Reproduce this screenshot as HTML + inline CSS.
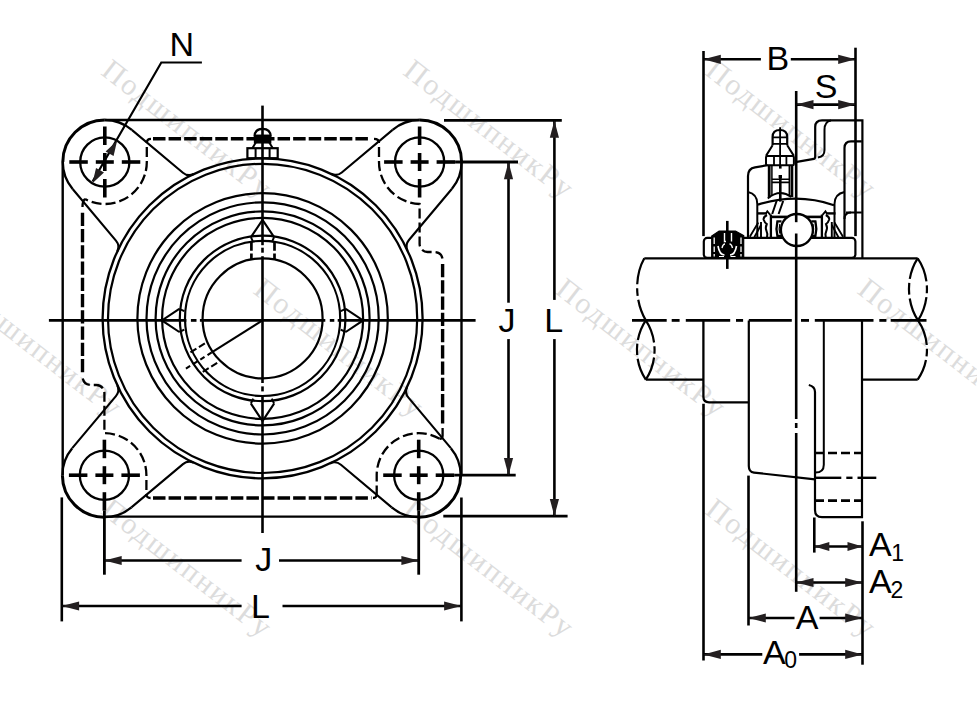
<!DOCTYPE html>
<html><head><meta charset="utf-8"><style>
html,body{margin:0;padding:0;background:#fff;width:977px;height:704px;overflow:hidden;}
svg{display:block;}

</style></head><body>
<svg width="977" height="704" viewBox="0 0 977 704">
<g font-family="Liberation Serif, serif" font-size="30" letter-spacing="2" fill="#dcdcdc" stroke="none">
<text transform="translate(99.78,73.79) rotate(37.8)">ПодшипникРу</text>
<text transform="translate(401.78,73.79) rotate(37.8)">ПодшипникРу</text>
<text transform="translate(703.78,73.79) rotate(37.8)">ПодшипникРу</text>
<text transform="translate(-50.12,292.59) rotate(37.8)">ПодшипникРу</text>
<text transform="translate(251.88,292.59) rotate(37.8)">ПодшипникРу</text>
<text transform="translate(553.88,292.59) rotate(37.8)">ПодшипникРу</text>
<text transform="translate(855.88,292.59) rotate(37.8)">ПодшипникРу</text>
<text transform="translate(99.78,512.69) rotate(37.8)">ПодшипникРу</text>
<text transform="translate(401.78,512.69) rotate(37.8)">ПодшипникРу</text>
<text transform="translate(703.78,512.69) rotate(37.8)">ПодшипникРу</text>
</g>
<g stroke="#000" fill="none" stroke-linecap="butt">
<line x1="104.8" y1="120" x2="419.6" y2="120" stroke-width="2.4" />
<line x1="104.4" y1="516.6" x2="418.7" y2="516.6" stroke-width="2.4" />
<line x1="62.7" y1="162" x2="62.7" y2="475.2" stroke-width="2.4" />
<line x1="461.5" y1="162" x2="461.5" y2="475.2" stroke-width="2.4" />
<path d="M131.8,129.83 A42,42 0 0 0 104.8,120" stroke-width="2.3" />
<path d="M104.8,120 A42,42 0 0 0 62.8,162" stroke-width="3.0" />
<path d="M62.8,162 A42,42 0 0 0 72.63,189" stroke-width="2.3" />
<path d="M131.8,129.83 L182.93,172.73 Q187.9,176.91 193.71,173.99" stroke-width="2.1" />
<path d="M72.63,189 L115.94,240.62 Q120.12,245.6 117.28,251.45" stroke-width="2.1" />
<path d="M451.77,189 A42,42 0 0 0 461.6,162" stroke-width="2.3" />
<path d="M461.6,162 A42,42 0 0 0 419.6,120" stroke-width="3.0" />
<path d="M419.6,120 A42,42 0 0 0 392.6,129.83" stroke-width="2.3" />
<path d="M451.77,189 L408.95,240.03 Q404.77,245.01 407.64,250.84" stroke-width="2.1" />
<path d="M392.6,129.83 L341.78,172.47 Q336.8,176.65 330.99,173.75" stroke-width="2.1" />
<path d="M72.23,448.2 A42,42 0 0 0 62.4,475.2" stroke-width="2.3" />
<path d="M62.4,475.2 A42,42 0 0 0 104.4,517.2" stroke-width="3.0" />
<path d="M104.4,517.2 A42,42 0 0 0 131.4,507.37" stroke-width="2.3" />
<path d="M72.23,448.2 L115.92,396.13 Q120.1,391.15 117.26,385.3" stroke-width="2.1" />
<path d="M131.4,507.37 L182.97,464.1 Q187.95,459.92 193.76,462.83" stroke-width="2.1" />
<path d="M391.7,507.37 A42,42 0 0 0 418.7,517.2" stroke-width="2.3" />
<path d="M418.7,517.2 A42,42 0 0 0 460.7,475.2" stroke-width="3.0" />
<path d="M460.7,475.2 A42,42 0 0 0 450.87,448.2" stroke-width="2.3" />
<path d="M391.7,507.37 L340.93,464.77 Q335.95,460.59 330.12,463.46" stroke-width="2.1" />
<path d="M450.87,448.2 L408.48,397.68 Q404.3,392.7 407.2,386.88" stroke-width="2.1" />
<circle cx="262.6" cy="318.4" r="160" stroke-width="2.3" />
<circle cx="262.6" cy="318.4" r="154.6" stroke-width="2.2" />
<circle cx="262.6" cy="318.4" r="125.2" stroke-width="2.2" />
<circle cx="262.6" cy="318.4" r="116.1" stroke-width="2.2" />
<circle cx="262.6" cy="318.4" r="107" stroke-width="2.2" />
<circle cx="262.6" cy="318.4" r="100.5" stroke-width="2.2" />
<circle cx="262.6" cy="318.4" r="82.8" stroke-width="2.2" />
<circle cx="262.6" cy="318.4" r="77.6" stroke-width="2.2" />
<circle cx="262.6" cy="318.4" r="60" stroke-width="2.2" />
<circle cx="104.8" cy="162" r="24.6" stroke-width="2.3" />
<line x1="69.3" y1="162" x2="87.8" y2="162" stroke-width="3.6" />
<line x1="104.8" y1="126.5" x2="104.8" y2="145" stroke-width="3.6" />
<line x1="95.8" y1="162" x2="113.8" y2="162" stroke-width="3.6" />
<line x1="104.8" y1="153" x2="104.8" y2="171" stroke-width="3.6" />
<line x1="121.8" y1="162" x2="140.3" y2="162" stroke-width="3.6" />
<line x1="104.8" y1="179" x2="104.8" y2="197.5" stroke-width="3.6" />
<circle cx="419.6" cy="162" r="24.6" stroke-width="2.3" />
<line x1="384.1" y1="162" x2="402.6" y2="162" stroke-width="3.6" />
<line x1="419.6" y1="126.5" x2="419.6" y2="145" stroke-width="3.6" />
<line x1="410.6" y1="162" x2="428.6" y2="162" stroke-width="3.6" />
<line x1="419.6" y1="153" x2="419.6" y2="171" stroke-width="3.6" />
<line x1="436.6" y1="162" x2="455.1" y2="162" stroke-width="3.6" />
<line x1="419.6" y1="179" x2="419.6" y2="197.5" stroke-width="3.6" />
<circle cx="104.4" cy="475.2" r="24.6" stroke-width="2.3" />
<line x1="68.9" y1="475.2" x2="87.4" y2="475.2" stroke-width="3.6" />
<line x1="104.4" y1="439.7" x2="104.4" y2="458.2" stroke-width="3.6" />
<line x1="95.4" y1="475.2" x2="113.4" y2="475.2" stroke-width="3.6" />
<line x1="104.4" y1="466.2" x2="104.4" y2="484.2" stroke-width="3.6" />
<line x1="121.4" y1="475.2" x2="139.9" y2="475.2" stroke-width="3.6" />
<line x1="104.4" y1="492.2" x2="104.4" y2="510.7" stroke-width="3.6" />
<circle cx="418.7" cy="475.2" r="24.6" stroke-width="2.3" />
<line x1="383.2" y1="475.2" x2="401.7" y2="475.2" stroke-width="3.6" />
<line x1="418.7" y1="439.7" x2="418.7" y2="458.2" stroke-width="3.6" />
<line x1="409.7" y1="475.2" x2="427.7" y2="475.2" stroke-width="3.6" />
<line x1="418.7" y1="466.2" x2="418.7" y2="484.2" stroke-width="3.6" />
<line x1="435.7" y1="475.2" x2="454.2" y2="475.2" stroke-width="3.6" />
<line x1="418.7" y1="492.2" x2="418.7" y2="510.7" stroke-width="3.6" />
<line x1="455.1" y1="162" x2="518" y2="162" stroke-width="2.8" />
<line x1="454.2" y1="475.2" x2="515.7" y2="475.2" stroke-width="2.8" />
<line x1="104.4" y1="510.7" x2="104.4" y2="574.7" stroke-width="2.8" />
<line x1="418.7" y1="510.7" x2="418.7" y2="574.7" stroke-width="2.8" />
<line x1="153" y1="138.8" x2="368.9" y2="138.8" stroke-width="3.4" stroke-dasharray="12.5 3.07"/>
<line x1="153" y1="498" x2="371.5" y2="498" stroke-width="3.4" stroke-dasharray="12.5 3.07"/>
<line x1="82.5" y1="212.7" x2="82.5" y2="373" stroke-width="3.4" stroke-dasharray="13.3 2.95"/>
<line x1="442.6" y1="264" x2="442.6" y2="426" stroke-width="3.4" stroke-dasharray="13.3 2.95"/>
<path d="M151,138.8 Q146.8,138.8 146.8,143" stroke-width="2.3" />
<path d="M146.8,143 V162 A42,42 0 0 1 85.08,199.08" stroke-width="2.3" stroke-dasharray="10 4" stroke-dashoffset="10"/>
<path d="M85.08,199.08 Q82.5,200.58 82.5,207.08" stroke-width="2.3" />
<path d="M374,138.8 Q379,138.8 379,143" stroke-width="2.3" />
<path d="M379,143 V162 A42,42 0 0 0 419.6,204 V244 A8,8 0 0 0 427.9,252 H434.6 A8,8 0 0 1 442.6,260" stroke-width="2.3" stroke-dasharray="10 4" stroke-dashoffset="10"/>
<path d="M442.6,428 V435.83 Q442.6,438.83 439.7,438.83" stroke-width="2.3" />
<path d="M439.7,438.83 A42,42 0 0 0 376.7,475.2 V494" stroke-width="2.3" stroke-dasharray="10 4"/>
<path d="M376.7,494 Q376.7,498 373,498" stroke-width="2.3" />
<path d="M146.4,494 Q146.4,498 150.6,498" stroke-width="2.3" />
<path d="M146.4,494 V475.2 A42,42 0 0 0 104.4,433.2 V393 A8,8 0 0 0 96.4,385 H90.6 A8,8 0 0 1 82.6,377" stroke-width="2.3" stroke-dasharray="10 4" stroke-dashoffset="10"/>
<line x1="48.9" y1="320.4" x2="186.4" y2="320.4" stroke-width="2.8" />
<line x1="190.9" y1="320.4" x2="196.5" y2="320.4" stroke-width="2.8" />
<line x1="199.9" y1="320.4" x2="325.3" y2="320.4" stroke-width="2.8" />
<line x1="329.8" y1="320.4" x2="334.3" y2="320.4" stroke-width="2.8" />
<line x1="337.7" y1="320.4" x2="475.6" y2="320.4" stroke-width="2.8" />
<line x1="262.5" y1="105.6" x2="262.5" y2="245.2" stroke-width="2.6" />
<line x1="262.5" y1="247.7" x2="262.5" y2="252.7" stroke-width="2.6" />
<line x1="262.5" y1="256.2" x2="262.5" y2="383" stroke-width="2.6" />
<line x1="262.5" y1="386.4" x2="262.5" y2="391.4" stroke-width="2.6" />
<line x1="262.5" y1="395" x2="262.5" y2="533" stroke-width="2.6" />
<path d="M250.9,237.2 L262.5,219.8 L274.1,237.2" stroke-width="2.1" />
<path d="M250.9,237.2 L253.2,242.2 M274.1,237.2 L271.8,242.2" stroke-width="2.0" />
<line x1="251.4" y1="242.1" x2="251.4" y2="260.1" stroke-width="2.7" stroke-dasharray="8.6 2.7"/>
<line x1="274.5" y1="242.1" x2="274.5" y2="260.1" stroke-width="2.7" stroke-dasharray="8.6 2.7"/>
<path d="M274.1,403.6 L262.5,421 L250.9,403.6" stroke-width="2.1" />
<path d="M274.1,403.6 L271.8,398.6 M250.9,403.6 L253.2,398.6" stroke-width="2.0" />
<path d="M179.3,332 L161.9,320.4 L179.3,308.8" stroke-width="2.1" />
<path d="M179.3,332 L184.3,329.7 M179.3,308.8 L184.3,311.1" stroke-width="2.0" />
<path d="M345.7,308.8 L363.1,320.4 L345.7,332" stroke-width="2.1" />
<path d="M345.7,308.8 L340.7,311.1 M345.7,332 L340.7,329.7" stroke-width="2.0" />
<line x1="262.5" y1="320.4" x2="211.73" y2="352.37" stroke-width="2.1" />
<line x1="211.73" y1="352.37" x2="183.8" y2="369.96" stroke-width="2.1" stroke-dasharray="5 3.5"/>
<line x1="217.17" y1="362.89" x2="201.94" y2="372.48" stroke-width="2.1" stroke-dasharray="7 3"/>
<line x1="204.86" y1="343.34" x2="189.63" y2="352.94" stroke-width="2.1" stroke-dasharray="7 3"/>
<rect x="247.4" y="148.2" width="30.3" height="10" stroke-width="2.2"/>
<line x1="255.6" y1="149" x2="255.6" y2="158" stroke-width="2.0" />
<line x1="269.6" y1="149" x2="269.6" y2="158" stroke-width="2.0" />
<path d="M252.3,148.2 L256.3,141.8 M272.8,148.2 L268.8,141.8" stroke-width="2.0" />
<rect x="254.6" y="135.3" width="16" height="7.5" fill="#000" stroke="#000" stroke-width="1.5"/>
<path d="M254.6,136.5 Q254.6,128.8 262.6,128.8 Q270.6,128.8 270.6,136.5" stroke-width="2.2" />
<path d="M201.9,62.5 H161.3 L92.6,181.5" stroke-width="2.2" />
<path d="M117.1,140.7 L113.58,155.99 L105.62,151.39Z" fill="#231f20" stroke="none"/>
<path d="M92.5,183.3 L96.02,168.01 L103.98,172.61Z" fill="#231f20" stroke="none"/>
<line x1="444" y1="120.4" x2="561.8" y2="120.4" stroke-width="2.8" />
<line x1="443.3" y1="516.2" x2="567.6" y2="516.2" stroke-width="2.8" />
<line x1="508.5" y1="162" x2="508.5" y2="302.7" stroke-width="2.6" />
<line x1="508.5" y1="339.1" x2="508.5" y2="475.2" stroke-width="2.6" />
<path d="M508.5,162 L513.1,179.3 L503.9,179.3Z" fill="#231f20" stroke="none"/>
<path d="M508.5,475.2 L503.9,457.9 L513.1,457.9Z" fill="#231f20" stroke="none"/>
<line x1="554.4" y1="120.4" x2="554.4" y2="299.9" stroke-width="2.6" />
<line x1="554.4" y1="339.1" x2="554.4" y2="516.2" stroke-width="2.6" />
<path d="M554.4,120.4 L559,137.7 L549.8,137.7Z" fill="#231f20" stroke="none"/>
<path d="M554.4,516.2 L549.8,498.9 L559,498.9Z" fill="#231f20" stroke="none"/>
<line x1="61.8" y1="497.4" x2="61.8" y2="621.4" stroke-width="2.6" />
<line x1="461.4" y1="497.5" x2="461.4" y2="621.4" stroke-width="2.6" />
<line x1="104.4" y1="560.5" x2="241.6" y2="560.5" stroke-width="2.6" />
<line x1="279" y1="560.5" x2="418.7" y2="560.5" stroke-width="2.6" />
<path d="M104.4,560.5 L121.7,555.9 L121.7,565.1Z" fill="#231f20" stroke="none"/>
<path d="M418.7,560.5 L401.4,565.1 L401.4,555.9Z" fill="#231f20" stroke="none"/>
<line x1="61.8" y1="606" x2="241.6" y2="606" stroke-width="2.6" />
<line x1="282.5" y1="606" x2="461.4" y2="606" stroke-width="2.6" />
<path d="M61.8,606 L79.1,601.4 L79.1,610.6Z" fill="#231f20" stroke="none"/>
<path d="M461.4,606 L444.1,610.6 L444.1,601.4Z" fill="#231f20" stroke="none"/>
<line x1="644.3" y1="258.3" x2="917.7" y2="258.3" stroke-width="2.3" />
<line x1="645.8" y1="379.6" x2="703.5" y2="379.6" stroke-width="2.2" />
<line x1="862" y1="379.6" x2="917.7" y2="379.6" stroke-width="2.2" />
<path d="M644.3,258.3 C635,275 634,300 645.8,320.4" stroke-width="2.2" pathLength="100" stroke-dasharray="42 6 12 6 100"/>
<path d="M645.8,320.4 C634,338 634,362 645.8,379.6" stroke-width="2.2" pathLength="100" stroke-dasharray="34 6 18 6 100"/>
<path d="M645.8,320.4 C657.5,338 657.5,362 645.8,379.6" stroke-width="2.2" pathLength="100" stroke-dasharray="38 6 12 6 100"/>
<path d="M917.7,258.3 C906,276 906,302 918,320.4" stroke-width="2.2" pathLength="100" stroke-dasharray="34 6 18 6 100"/>
<path d="M917.7,258.3 C930,276 930,302 918,320.4" stroke-width="2.2" pathLength="100" stroke-dasharray="38 6 12 6 100"/>
<path d="M918,320.4 C930,338 930,362 917.7,379.6" stroke-width="2.2" pathLength="100" stroke-dasharray="42 6 12 6 100"/>
<line x1="632" y1="320.4" x2="666.7" y2="320.4" stroke-width="2.8" />
<line x1="671.7" y1="320.4" x2="679.6" y2="320.4" stroke-width="2.8" />
<line x1="685.8" y1="320.4" x2="730.2" y2="320.4" stroke-width="2.8" />
<line x1="736" y1="320.4" x2="743.1" y2="320.4" stroke-width="2.8" />
<line x1="748.8" y1="320.4" x2="791.8" y2="320.4" stroke-width="2.8" />
<line x1="801" y1="320.4" x2="809" y2="320.4" stroke-width="2.8" />
<line x1="814.8" y1="320.4" x2="873.5" y2="320.4" stroke-width="2.8" />
<line x1="879.3" y1="320.4" x2="886.4" y2="320.4" stroke-width="2.8" />
<line x1="890.7" y1="320.4" x2="926.5" y2="320.4" stroke-width="2.8" />
<rect x="703.8" y="237.9" width="151.6" height="20" rx="3.5" stroke-width="2.2"/>
<path d="M711.7,257.5 V236.1 L719.1,231 H735.5 L743.7,235.7 V257.5 Z" stroke-width="1.2" fill="#000"/>
<line x1="714.2" y1="237.5" x2="714.2" y2="244" stroke-width="1.3" stroke="#fff"/>
<line x1="714.2" y1="246.5" x2="714.2" y2="252" stroke-width="1.3" stroke="#fff"/>
<line x1="714.2" y1="254" x2="714.2" y2="256.5" stroke-width="1.3" stroke="#fff"/>
<line x1="741" y1="237.5" x2="741" y2="244" stroke-width="1.3" stroke="#fff"/>
<line x1="741" y1="246.5" x2="741" y2="252" stroke-width="1.3" stroke="#fff"/>
<line x1="741" y1="254" x2="741" y2="256.5" stroke-width="1.3" stroke="#fff"/>
<path d="M724.5,233 V241.5 H726.5 M731.5,233 V241.5" stroke-width="1.4" stroke="#fff"/>
<path d="M718,246 Q719.5,255 724.5,255 M736.5,246 Q735,255 730,255" stroke-width="1.6" stroke="#fff"/>
<path d="M722,248 Q723,244 725,244 M732.5,248 Q731.5,244 729.5,244" stroke-width="1.4" stroke="#fff"/>
<path d="M719,256.5 H724 M730.5,256.5 H735.5" stroke-width="1.2" stroke="#fff"/>
<line x1="727.3" y1="220.9" x2="727.3" y2="268.9" stroke-width="2.6" />
<path d="M748,238 V176 Q748,168.6 755,167.4 L767.5,165.2" stroke-width="2.2" />
<path d="M796.9,161.8 L814,158.8 Q815.2,158.6 815.2,156 V127 Q815.2,120.4 822,120.4 H862.4 V258" stroke-width="2.2" />
<path d="M831,120.4 Q824.5,121 824.5,130 V150 Q824.5,156.5 818,157.6" stroke-width="2.0" />
<path d="M844.5,238 V148 Q844.5,141.3 851,141.3 H861.8" stroke-width="2.2" />
<line x1="846" y1="212.5" x2="861.8" y2="212.5" stroke-width="2.0" />
<path d="M844.5,219 Q844.5,212.5 851,212.5" stroke-width="2.0" />
<path d="M748,192 Q757.3,194 757.3,204 V238" stroke-width="2.0" />
<path d="M844.5,192 Q834.5,194 834.5,204 V238" stroke-width="2.0" />
<path d="M758,204.6 Q796.6,192.5 834,205.2" stroke-width="2.2" />
<path d="M772.2,214 L776.6,201 M778.6,214 L783.2,201" stroke-width="2.0" />
<line x1="757.3" y1="213.4" x2="767" y2="213.4" stroke-width="2.4" />
<path d="M766,213.4 L767.3,211.3 L770.3,214.8" stroke-width="1.8" />
<line x1="770" y1="216.9" x2="787" y2="216.9" stroke-width="2.6" />
<line x1="770.9" y1="214.5" x2="770.9" y2="237.5" stroke-width="2.3" />
<path d="M767,215 Q763.2,217 763.6,219.5 Q764.5,222.5 766.8,224 Q765,228 766.5,231 Q768,234 767,237.5" stroke-width="2.0" />
<line x1="761" y1="222" x2="761" y2="237.5" stroke-width="1.9" />
<path d="M749.8,236.8 L758.3,222.5 M754.3,237.2 L761,225" stroke-width="1.8" />
<path d="M781.5,221.4 H777.4 Q775.6,228.7 777.4,236 H781.5" stroke-width="2.3" />
<path d="M779.8,224 Q778.6,228.7 779.8,233.5" stroke-width="1.2" />
<line x1="835.5" y1="213.4" x2="825.8" y2="213.4" stroke-width="2.4" />
<path d="M826.8,213.4 L825.5,211.3 L822.5,214.8" stroke-width="1.8" />
<line x1="822.8" y1="216.9" x2="805.8" y2="216.9" stroke-width="2.6" />
<line x1="821.9" y1="214.5" x2="821.9" y2="237.5" stroke-width="2.3" />
<path d="M825.8,215 Q829.6,217 829.2,219.5 Q828.3,222.5 826,224 Q827.8,228 826.3,231 Q824.8,234 825.8,237.5" stroke-width="2.0" />
<line x1="831.8" y1="222" x2="831.8" y2="237.5" stroke-width="1.9" />
<path d="M843,236.8 L834.5,222.5 M838.5,237.2 L831.8,225" stroke-width="1.8" />
<path d="M811.3,221.4 H815.4 Q817.2,228.7 815.4,236 H811.3" stroke-width="2.3" />
<path d="M813,224 Q814.2,228.7 813,233.5" stroke-width="1.2" />
<circle cx="796.9" cy="230" r="16" stroke-width="2.3" fill="#fff"/>
<path d="M772.6,145.3 V137 Q772.6,130 779.9,130 Q787.2,130 787.2,137 V145.3" stroke-width="2.2" />
<path d="M772.6,137.3 H787.2 M772.6,143.9 H787.2" stroke-width="1.8" />
<path d="M772.6,145.3 L766,155.9 M787.2,145.3 L793.9,155.9" stroke-width="2.0" />
<rect x="766" y="155.9" width="27.9" height="9.3" rx="1.5" stroke-width="2.0"/>
<path d="M774,156.5 V165 M786.4,156.5 V165" stroke-width="1.8" />
<path d="M769.2,165.2 V197.5 M791.9,165.2 V197" stroke-width="2.8" />
<path d="M771.9,166 V196 M789.3,166 V196" stroke-width="1.5" />
<line x1="780.1" y1="127.3" x2="780.1" y2="165.2" stroke-width="1.8" />
<line x1="780.3" y1="165.2" x2="780.3" y2="168.6" stroke-width="2.6" />
<line x1="780.3" y1="175" x2="780.3" y2="201.6" stroke-width="2.6" />
<rect x="778.6" y="175" width="3.4" height="3.4" fill="#000" stroke="none"/>
<path d="M771.9,179.3 H789.3 M771.9,182.4 H789.3" stroke-width="1.6" />
<path d="M767.8,198.4 Q779.5,188.5 791.3,196.9" stroke-width="2.0" />
<path d="M703.4,320.4 V396.8 Q703.4,402.3 709,402.3 H748.8" stroke-width="2.3" />
<path d="M748.8,320.4 V466 Q748.8,472 754,472.6 L815,479.4" stroke-width="2.2" />
<path d="M823.8,320.4 V464.7 Q823.8,472.5 815.5,472.5" stroke-width="2.0" />
<path d="M808.8,385 Q815,386.5 815,392 V510 Q815,517.2 822,517.2 H862 V320.4" stroke-width="2.2" />
<line x1="815" y1="453" x2="862" y2="453" stroke-width="2.6" stroke-dasharray="9 4"/>
<line x1="815" y1="500.6" x2="862" y2="500.6" stroke-width="2.6" stroke-dasharray="9 4"/>
<line x1="815" y1="477.8" x2="841.3" y2="477.8" stroke-width="2.4" />
<line x1="846.3" y1="477.8" x2="852.5" y2="477.8" stroke-width="2.4" />
<line x1="857.5" y1="477.8" x2="876.3" y2="477.8" stroke-width="2.4" />
<line x1="796.2" y1="91" x2="796.2" y2="222.2" stroke-width="2.6" />
<line x1="796.2" y1="233.5" x2="796.2" y2="419" stroke-width="2.6" />
<line x1="796.2" y1="423" x2="796.2" y2="428" stroke-width="2.6" />
<line x1="796.2" y1="433" x2="796.2" y2="591.8" stroke-width="2.6" />
<line x1="703.5" y1="51" x2="703.5" y2="236.1" stroke-width="2.6" />
<line x1="855.5" y1="47.7" x2="855.5" y2="236.1" stroke-width="2.6" />
<line x1="703.5" y1="403.8" x2="703.5" y2="660.6" stroke-width="2.6" />
<line x1="748.5" y1="475.6" x2="748.5" y2="625.5" stroke-width="2.6" />
<line x1="814.3" y1="517.5" x2="814.3" y2="552.6" stroke-width="2.6" />
<line x1="862.5" y1="521.3" x2="862.5" y2="664.7" stroke-width="2.6" />
<line x1="703.5" y1="59.3" x2="760.9" y2="59.3" stroke-width="2.6" />
<line x1="790.8" y1="59.3" x2="855.5" y2="59.3" stroke-width="2.6" />
<path d="M703.5,59.3 L720.8,54.7 L720.8,63.9Z" fill="#231f20" stroke="none"/>
<path d="M855.5,59.3 L838.2,63.9 L838.2,54.7Z" fill="#231f20" stroke="none"/>
<line x1="796.2" y1="104.6" x2="855.5" y2="104.6" stroke-width="2.6" />
<path d="M796.2,104.6 L813.5,100 L813.5,109.2Z" fill="#231f20" stroke="none"/>
<path d="M855.5,104.6 L838.2,109.2 L838.2,100Z" fill="#231f20" stroke="none"/>
<line x1="814.3" y1="546.5" x2="862.5" y2="546.5" stroke-width="2.6" />
<path d="M814.3,546.5 L829.3,541.9 L829.3,551.1Z" fill="#231f20" stroke="none"/>
<path d="M862.5,546.5 L847.5,551.1 L847.5,541.9Z" fill="#231f20" stroke="none"/>
<line x1="796.2" y1="582.5" x2="862.5" y2="582.5" stroke-width="2.6" />
<path d="M796.2,582.5 L813.5,577.9 L813.5,587.1Z" fill="#231f20" stroke="none"/>
<path d="M862.5,582.5 L845.2,587.1 L845.2,577.9Z" fill="#231f20" stroke="none"/>
<line x1="748.5" y1="618" x2="794.5" y2="618" stroke-width="2.6" />
<line x1="819.6" y1="618" x2="862.5" y2="618" stroke-width="2.6" />
<path d="M748.5,618 L765.8,613.4 L765.8,622.6Z" fill="#231f20" stroke="none"/>
<path d="M862.5,618 L845.2,622.6 L845.2,613.4Z" fill="#231f20" stroke="none"/>
<line x1="703.5" y1="654.4" x2="762.3" y2="654.4" stroke-width="2.6" />
<line x1="799.1" y1="654.4" x2="862.5" y2="654.4" stroke-width="2.6" />
<path d="M703.5,654.4 L720.8,649.8 L720.8,659Z" fill="#231f20" stroke="none"/>
<path d="M862.5,654.4 L845.2,659 L845.2,649.8Z" fill="#231f20" stroke="none"/>
</g>
<g font-family="Liberation Sans, sans-serif" fill="#000" stroke="none">
<text x="169.4" y="55.9" font-size="34" >N</text>
<text x="498.6" y="331.9" font-size="34" >J</text>
<text x="544.2" y="332.3" font-size="34" >L</text>
<text x="255.3" y="570.7" font-size="34" >J</text>
<text x="251.1" y="618.2" font-size="34" >L</text>
<text x="766.5" y="69.8" font-size="34" >B</text>
<text x="814.7" y="97.7" font-size="34" >S</text>
<text x="795.8" y="628.8" font-size="34" >A</text>
<text x="763" y="663.7" font-size="34" >A</text>
<text x="784.3" y="668.1" font-size="23" >0</text>
<text x="868.9" y="555.8" font-size="34" >A</text>
<text x="891.2" y="560.6" font-size="23" >1</text>
<text x="868.9" y="592.8" font-size="34" >A</text>
<text x="890.5" y="597.6" font-size="23" >2</text>
</g>
</svg>
</body></html>
